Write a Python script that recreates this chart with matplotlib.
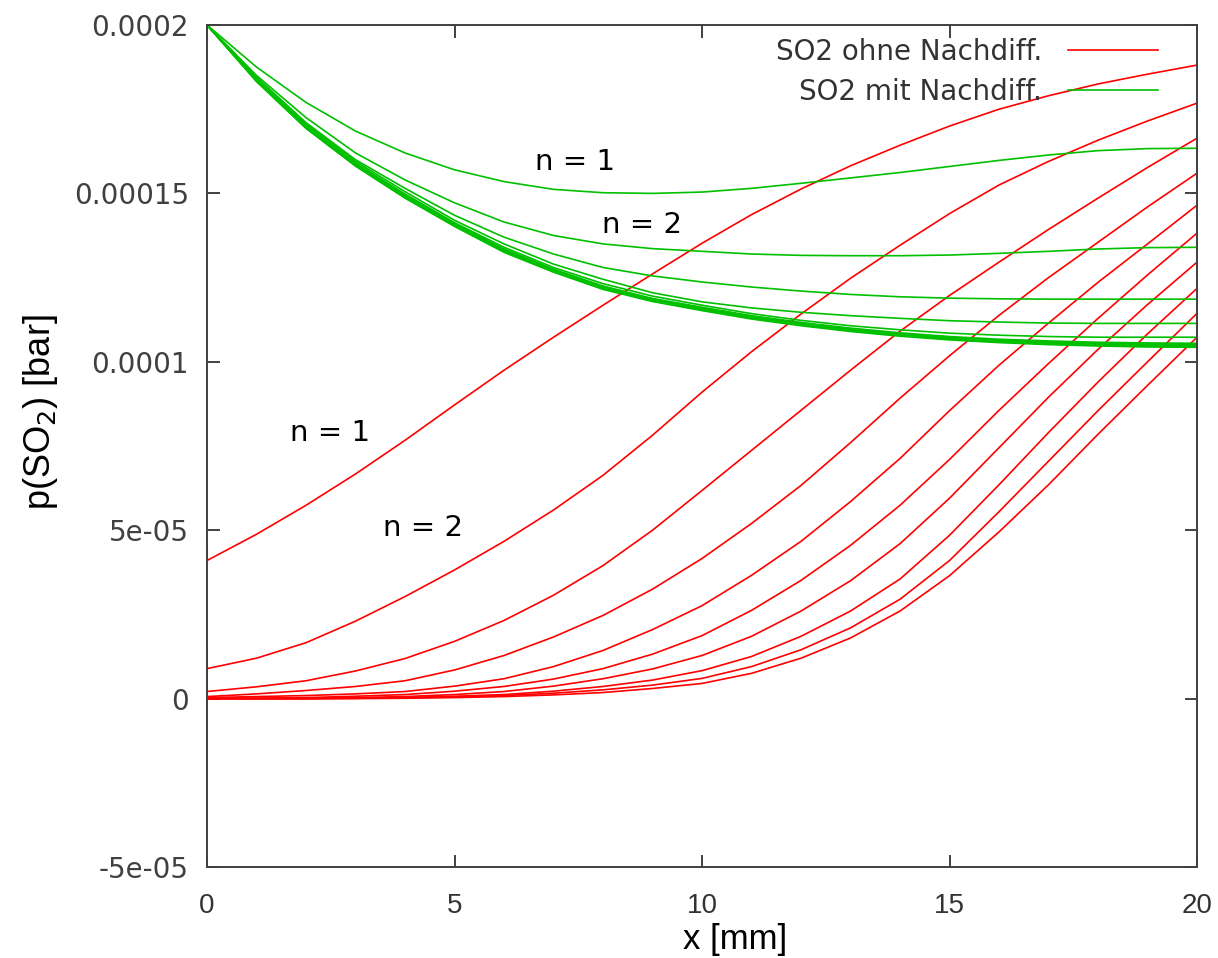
import numpy as np
import matplotlib
matplotlib.use("Agg")
import matplotlib.pyplot as plt
from matplotlib.ticker import FixedLocator

plt.rcParams.update({
    "font.family": ["DejaVu Sans"],
    "axes.linewidth": 1.4,
})
NARROW = ["Liberation Sans Narrow", "Liberation Sans", "DejaVu Sans"]

# ---- data: p(SO2) in units of 1e-5 bar, read at x = 0, 1, ..., 20 mm ----
x_mm = list(range(21))

# without post-diffusion (red), n = 1..10; spike = value drawn at x=0 first
red_spike = [4.70, 1.58, 0.89, 0.21, 0.06, 0.03, 0.0, 0.0, 0.0, 0.0]
red_n1 = [4.10, 4.88, 5.74, 6.67, 7.67, 8.72, 9.75, 10.73, 11.68, 12.61, 13.52,
          14.37, 15.13, 15.82, 16.43, 17.00, 17.50, 17.90, 18.25, 18.54, 18.81]
red_n2 = [0.89, 1.20, 1.66, 2.30, 3.03, 3.82, 4.67, 5.60, 6.63, 7.82, 9.10,
          10.30, 11.42, 12.48, 13.46, 14.40, 15.25, 15.95, 16.58, 17.15, 17.68]
red_n3 = [0.21, 0.35, 0.53, 0.82, 1.19, 1.70, 2.32, 3.07, 3.95, 5.00, 6.18,
          7.37, 8.56, 9.75, 10.91, 11.97, 12.96, 13.93, 14.86, 15.77, 16.64]
red_n4 = [0.06, 0.14, 0.24, 0.36, 0.53, 0.85, 1.28, 1.83, 2.47, 3.25, 4.16,
          5.20, 6.33, 7.60, 8.92, 10.18, 11.38, 12.50, 13.55, 14.60, 15.60]
red_n5 = [0.03, 0.06, 0.09, 0.14, 0.21, 0.37, 0.59, 0.95, 1.43, 2.05, 2.76,
          3.66, 4.67, 5.85, 7.13, 8.55, 9.90, 11.15, 12.36, 13.50, 14.65]
red_n6 = [0.00, 0.01, 0.03, 0.07, 0.12, 0.22, 0.36, 0.58, 0.89, 1.32, 1.87,
          2.62, 3.51, 4.55, 5.74, 7.10, 8.56, 9.95, 11.29, 12.58, 13.82]
red_n7 = [0.00, 0.00, 0.00, 0.03, 0.06, 0.12, 0.21, 0.37, 0.59, 0.88, 1.28,
          1.85, 2.60, 3.50, 4.60, 5.95, 7.45, 8.95, 10.37, 11.70, 12.96]
red_n8 = [0.00, 0.00, 0.00, 0.01, 0.03, 0.07, 0.12, 0.22, 0.36, 0.55, 0.83,
          1.25, 1.85, 2.60, 3.55, 4.85, 6.35, 7.90, 9.40, 10.83, 12.18]
red_n9 = [0.00, 0.00, 0.00, 0.01, 0.03, 0.05, 0.09, 0.16, 0.26, 0.40, 0.60,
          0.95, 1.45, 2.10, 2.95, 4.10, 5.55, 7.05, 8.55, 10.00, 11.44]
red_n10 = [0.00, 0.00, 0.00, 0.00, 0.01, 0.03, 0.06, 0.11, 0.18, 0.30, 0.45,
           0.75, 1.20, 1.80, 2.60, 3.65, 4.95, 6.35, 7.85, 9.30, 10.73]

# with post-diffusion (green), n = 1..10
grn_n1 = [20.0, 18.75, 17.70, 16.85, 16.20, 15.70, 15.35, 15.12, 15.02, 15.00, 15.04,
          15.15, 15.30, 15.46, 15.62, 15.80, 15.98, 16.14, 16.27, 16.33, 16.34]
grn_n2 = [20.0, 18.50, 17.25, 16.20, 15.40, 14.72, 14.15, 13.75, 13.50, 13.36, 13.28,
          13.20, 13.16, 13.15, 13.15, 13.17, 13.22, 13.28, 13.35, 13.39, 13.40]
grn_n3 = [20.0, 18.45, 17.10, 16.00, 15.15, 14.35, 13.70, 13.20, 12.80, 12.55, 12.37,
          12.22, 12.10, 12.00, 11.93, 11.89, 11.87, 11.86, 11.86, 11.86, 11.86]
grn_n4 = [20.0, 18.40, 17.05, 15.95, 15.05, 14.20, 13.50, 12.90, 12.45, 12.05, 11.78,
          11.60, 11.47, 11.37, 11.29, 11.22, 11.18, 11.15, 11.14, 11.14, 11.14]
grn_n5 = [20.0, 18.38, 17.00, 15.90, 14.98, 14.13, 13.40, 12.80, 12.32, 11.95, 11.68,
          11.43, 11.23, 11.07, 10.95, 10.85, 10.79, 10.75, 10.73, 10.73, 10.73]
grn_n6 = [20.0, 18.36, 16.98, 15.87, 14.94, 14.10, 13.35, 12.75, 12.25, 11.88, 11.62,
          11.37, 11.17, 11.00, 10.86, 10.75, 10.67, 10.62, 10.58, 10.56, 10.55]
grn_n7 = [20.0, 18.35, 16.96, 15.85, 14.91, 14.07, 13.32, 12.72, 12.22, 11.85, 11.59,
          11.34, 11.14, 10.97, 10.83, 10.72, 10.64, 10.59, 10.55, 10.53, 10.52]
grn_n8 = [20.0, 18.34, 16.95, 15.83, 14.89, 14.05, 13.29, 12.70, 12.19, 11.83, 11.56,
          11.31, 11.11, 10.94, 10.80, 10.69, 10.61, 10.56, 10.52, 10.50, 10.49]
grn_n9 = [20.0, 18.33, 16.94, 15.82, 14.87, 14.03, 13.27, 12.68, 12.17, 11.81, 11.54,
          11.29, 11.09, 10.92, 10.78, 10.67, 10.59, 10.53, 10.49, 10.47, 10.46]
grn_n10 = [20.0, 18.32, 16.93, 15.81, 14.86, 14.02, 13.25, 12.66, 12.15, 11.79, 11.52,
           11.27, 11.07, 10.90, 10.76, 10.65, 10.57, 10.51, 10.47, 10.44, 10.43]

red = [red_n1, red_n2, red_n3, red_n4, red_n5, red_n6, red_n7, red_n8, red_n9, red_n10]
grn = [grn_n1, grn_n2, grn_n3, grn_n4, grn_n5, grn_n6, grn_n7, grn_n8, grn_n9, grn_n10]

y_ticks = [-5e-5, 0, 5e-5, 1e-4, 1.5e-4, 2e-4]
y_ticklabels = ["-5e-05", "0", "5e-05", "0.0001", "0.00015", "0.0002"]
x_ticks = [0, 5, 10, 15, 20]

RED = "#ff0000"
GRN = "#00c000"
SC = 1e-5

fig = plt.figure(figsize=(12.18, 9.58), dpi=100)
ax = fig.add_axes([0.170, 0.095, 0.8128, 0.8789])

for i, (sp, c) in enumerate(zip(red_spike, red)):
    ax.plot([0] + x_mm, np.array([sp] + c) * SC, color=RED, lw=1.2,
            label="SO2 ohne Nachdiff." if i == 0 else None)
for i, c in enumerate(grn):
    ax.plot(x_mm, np.array(c) * SC, color=GRN, lw=1.2,
            label="SO2 mit Nachdiff." if i == 0 else None)

ax.set_xlim(0, 20)
ax.set_ylim(-5e-5, 2e-4)
ax.xaxis.set_major_locator(FixedLocator(x_ticks))
ax.set_yticks(y_ticks)
ax.set_yticklabels(y_ticklabels)
ax.tick_params(direction="in", length=9, width=1.3, top=True, right=True,
               color="#333333")
ax.tick_params(axis="y", labelsize=20, labelcolor="#404040", pad=13)
ax.tick_params(axis="x", labelsize=20, labelcolor="#333333", pad=19)
for t in ax.get_xticklabels():
    t.set_family(NARROW)
for s in ax.spines.values():
    s.set_color("#404040")

ax.set_xlabel("x [mm]", fontsize=25, family=NARROW, va="center")
ax.xaxis.set_label_coords(0.533, -0.086)
ax.set_ylabel("p(SO$_2$) [bar]", fontsize=26, family=NARROW, va="center")
ax.yaxis.set_label_coords(-0.168, 0.54)

# curve annotations
ax.text(7.43, 15.93e-5, "n = 1", fontsize=21, ha="center", va="center")
ax.text(8.79, 14.06e-5, "n = 2", fontsize=21, ha="center", va="center")
ax.text(2.48, 7.88e-5, "n = 1", fontsize=21, ha="center", va="center")
ax.text(4.36, 5.08e-5, "n = 2", fontsize=21, ha="center", va="center")

leg = ax.legend(loc="upper right", bbox_to_anchor=(0.9606, 0.985), frameon=False,
                markerfirst=False, fontsize=20, handlelength=3.24,
                handletextpad=0.94, labelspacing=0.45, borderpad=0.0,
                borderaxespad=0.0)
for t in leg.get_texts():
    t.set_color("#333333")

fig.savefig("out.png", dpi=100)
